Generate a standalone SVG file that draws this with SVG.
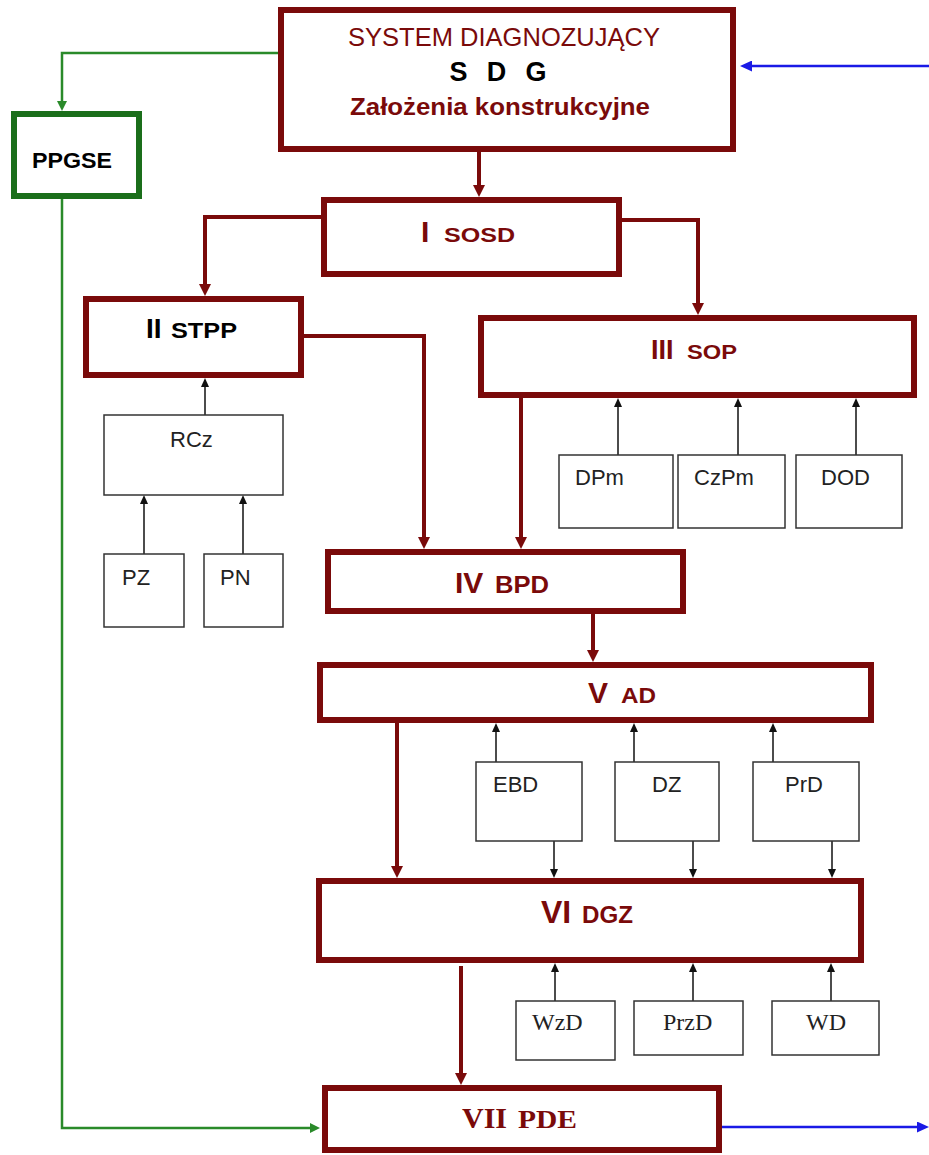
<svg xmlns="http://www.w3.org/2000/svg" width="929" height="1155" viewBox="0 0 929 1155">
  <style>
    .main { fill: #ffffff; stroke: #7a0a0a; stroke-width: 6; }
    .green { fill: #ffffff; stroke: #1a6e1a; stroke-width: 6; }
    .small { fill: #ffffff; stroke: #333333; stroke-width: 1.5; }
    .c-red { fill: none; stroke: #7a0a0a; stroke-width: 4; }
    .c-black { fill: none; stroke: #111111; stroke-width: 1.5; }
    .c-green { fill: none; stroke: #2a8a2a; stroke-width: 2.5; }
    .c-blue { fill: none; stroke: #1a1ae6; stroke-width: 2.5; }
    text { font-family: "Liberation Sans", Arial, sans-serif; }
    .num { font-weight: bold; fill: #7a0a0a; }
    .abbr { font-weight: bold; fill: #7a0a0a; }
    .lbl { font-size: 22px; fill: #222222; }
    .serif { font-family: "Liberation Serif", "Times New Roman", serif; }
    .slbl { font-family: "Liberation Serif", "Times New Roman", serif; font-size: 24px; fill: #222222; }
  </style>
  <defs>
    <marker id="ah-red" markerUnits="userSpaceOnUse" markerWidth="12" markerHeight="12" refX="0" refY="6" orient="auto">
      <path d="M0,0 L12,6 L0,12 z" fill="#7a0a0a"/>
    </marker>
    <marker id="ah-black" markerUnits="userSpaceOnUse" markerWidth="9" markerHeight="8" refX="0" refY="4" orient="auto">
      <path d="M0,0 L9,4 L0,8 z" fill="#111111"/>
    </marker>
    <marker id="ah-green" markerUnits="userSpaceOnUse" markerWidth="10" markerHeight="10" refX="0" refY="5" orient="auto">
      <path d="M0,0 L10,5 L0,10 z" fill="#2a8a2a"/>
    </marker>
    <marker id="ah-blue" markerUnits="userSpaceOnUse" markerWidth="12" markerHeight="11" refX="0" refY="5.5" orient="auto">
      <path d="M0,0 L12,5.5 L0,11 z" fill="#1a1ae6"/>
    </marker>
  </defs>

  <rect width="929" height="1155" fill="#ffffff"/>

  <!-- connectors -->
  <g id="connectors">
    <!-- main flow -->
    <path class="c-red" d="M479,152 L479,185" marker-end="url(#ah-red)"/>
    <path class="c-red" d="M321,217 L205,217 L205,284" marker-end="url(#ah-red)"/>
    <path class="c-red" d="M622,220 L698,220 L698,303" marker-end="url(#ah-red)"/>
    <path class="c-red" d="M304,336 L424,336 L424,537" marker-end="url(#ah-red)"/>
    <path class="c-red" d="M521,398 L521,537" marker-end="url(#ah-red)"/>
    <path class="c-red" d="M593,614 L593,650" marker-end="url(#ah-red)"/>
    <path class="c-red" d="M397,723 L397,866" marker-end="url(#ah-red)"/>
    <path class="c-red" d="M461,966 L461,1073" marker-end="url(#ah-red)"/>

    <!-- inputs -->
    <path class="c-black" d="M205,415 L205,387" marker-end="url(#ah-black)"/>
    <path class="c-black" d="M144,554 L144,504" marker-end="url(#ah-black)"/>
    <path class="c-black" d="M243,554 L243,504" marker-end="url(#ah-black)"/>
    <path class="c-black" d="M618,455 L618,407" marker-end="url(#ah-black)"/>
    <path class="c-black" d="M738,455 L738,407" marker-end="url(#ah-black)"/>
    <path class="c-black" d="M856,455 L856,407" marker-end="url(#ah-black)"/>
    <path class="c-black" d="M496,762 L496,732" marker-end="url(#ah-black)"/>
    <path class="c-black" d="M634,762 L634,732" marker-end="url(#ah-black)"/>
    <path class="c-black" d="M773,762 L773,732" marker-end="url(#ah-black)"/>
    <path class="c-black" d="M554,841 L554,869" marker-end="url(#ah-black)"/>
    <path class="c-black" d="M693,841 L693,869" marker-end="url(#ah-black)"/>
    <path class="c-black" d="M832,841 L832,869" marker-end="url(#ah-black)"/>
    <path class="c-black" d="M555,1001 L555,972" marker-end="url(#ah-black)"/>
    <path class="c-black" d="M693,1001 L693,972" marker-end="url(#ah-black)"/>
    <path class="c-black" d="M831,1001 L831,972" marker-end="url(#ah-black)"/>

    <!-- PPGSE loop -->
    <path class="c-green" d="M278,53 L62,53 L62,101" marker-end="url(#ah-green)"/>
    <path class="c-green" d="M62,199 L62,1128 L310,1128" marker-end="url(#ah-green)"/>

    <!-- feedback -->
    <path class="c-blue" d="M929,66 L752,66" marker-end="url(#ah-blue)"/>
    <path class="c-blue" d="M722,1127 L917,1127" marker-end="url(#ah-blue)"/>
  </g>

  <!-- main blocks -->
  <g id="node-sdg">
    <rect class="main" x="281" y="10" width="452" height="139"/>
    <text x="504" y="46" font-size="25" fill="#7a0a0a" text-anchor="middle" textLength="312" lengthAdjust="spacingAndGlyphs">SYSTEM DIAGNOZUJĄCY</text>
    <text x="498" y="81" font-size="27" font-weight="bold" fill="#000000" text-anchor="middle" textLength="97" lengthAdjust="spacing">S D G</text>
    <text x="500" y="115" font-size="24" font-weight="bold" fill="#7a0a0a" text-anchor="middle" textLength="300" lengthAdjust="spacingAndGlyphs">Założenia konstrukcyjne</text>
  </g>

  <g id="node-ppgse">
    <rect class="green" x="14" y="114" width="125" height="82"/>
    <text x="72" y="168" font-size="22" font-weight="bold" fill="#000000" text-anchor="middle" textLength="80" lengthAdjust="spacingAndGlyphs">PPGSE</text>
  </g>

  <g id="node-sosd">
    <rect class="main" x="324" y="200" width="295" height="74"/>
    <text class="num" x="421" y="242" font-size="30">I</text>
    <text class="abbr" x="444" y="242" font-size="21" textLength="71" lengthAdjust="spacingAndGlyphs">SOSD</text>
  </g>

  <g id="node-stpp">
    <rect class="main" x="86" y="299" width="215" height="76"/>
    <text x="146" y="338" font-size="28" font-weight="bold" fill="#000000">II</text>
    <text x="171" y="338" font-size="22" font-weight="bold" fill="#000000" textLength="66" lengthAdjust="spacingAndGlyphs">STPP</text>
  </g>

  <g id="node-sop">
    <rect class="main" x="481" y="318" width="433" height="77"/>
    <text class="num" x="651" y="359" font-size="27">III</text>
    <text class="abbr" x="687" y="359" font-size="20" textLength="50" lengthAdjust="spacingAndGlyphs">SOP</text>
  </g>

  <g id="node-bpd">
    <rect class="main" x="328" y="552" width="355" height="59"/>
    <text class="num" x="455" y="593" font-size="30">IV</text>
    <text class="abbr" x="495" y="593" font-size="23" textLength="54" lengthAdjust="spacingAndGlyphs">BPD</text>
  </g>

  <g id="node-ad">
    <rect class="main" x="320" y="665" width="551" height="55"/>
    <text class="num" x="588" y="703" font-size="30">V</text>
    <text class="abbr" x="621" y="703" font-size="22" textLength="35" lengthAdjust="spacingAndGlyphs">AD</text>
  </g>

  <g id="node-dgz">
    <rect class="main" x="319" y="881" width="542" height="79"/>
    <text class="num" x="541" y="923" font-size="32">VI</text>
    <text class="abbr" x="582" y="923" font-size="23" textLength="51" lengthAdjust="spacingAndGlyphs">DGZ</text>
  </g>

  <g id="node-pde">
    <rect class="main" x="325" y="1088" width="394" height="62"/>
    <text class="num serif" x="462" y="1128" font-size="30">VII</text>
    <text class="abbr serif" x="518" y="1128" font-size="26" textLength="59" lengthAdjust="spacingAndGlyphs">PDE</text>
  </g>

  <!-- input blocks -->
  <g id="node-rcz">
    <rect class="small" x="104" y="415" width="179" height="80"/>
    <text class="lbl" x="170" y="447">RCz</text>
  </g>
  <g id="node-pz">
    <rect class="small" x="104" y="554" width="80" height="73"/>
    <text class="lbl" x="122" y="585">PZ</text>
  </g>
  <g id="node-pn">
    <rect class="small" x="204" y="554" width="79" height="73"/>
    <text class="lbl" x="220" y="585">PN</text>
  </g>
  <g id="node-dpm">
    <rect class="small" x="559" y="455" width="114" height="73"/>
    <text class="lbl" x="575" y="485">DPm</text>
  </g>
  <g id="node-czpm">
    <rect class="small" x="678" y="455" width="107" height="73"/>
    <text class="lbl" x="694" y="485">CzPm</text>
  </g>
  <g id="node-dod">
    <rect class="small" x="796" y="455" width="106" height="73"/>
    <text class="lbl" x="821" y="485">DOD</text>
  </g>
  <g id="node-ebd">
    <rect class="small" x="476" y="762" width="106" height="79"/>
    <text class="lbl" x="493" y="792">EBD</text>
  </g>
  <g id="node-dz">
    <rect class="small" x="615" y="762" width="104" height="79"/>
    <text class="lbl" x="652" y="792">DZ</text>
  </g>
  <g id="node-prd">
    <rect class="small" x="753" y="762" width="106" height="79"/>
    <text class="lbl" x="785" y="792">PrD</text>
  </g>
  <g id="node-wzd">
    <rect class="small" x="516" y="1001" width="99" height="59"/>
    <text class="slbl" x="532" y="1030">WzD</text>
  </g>
  <g id="node-przd">
    <rect class="small" x="634" y="1001" width="109" height="54"/>
    <text class="slbl" x="663" y="1030">PrzD</text>
  </g>
  <g id="node-wd">
    <rect class="small" x="772" y="1001" width="107" height="54"/>
    <text class="slbl" x="806" y="1030">WD</text>
  </g>
</svg>
